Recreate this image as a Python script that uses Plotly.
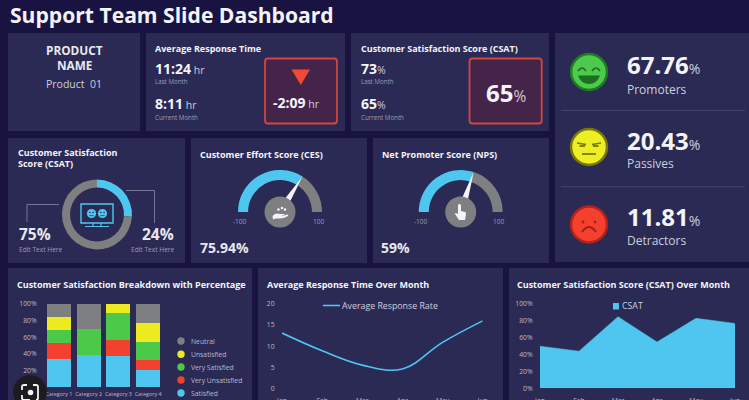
import math
import re
import plotly.graph_objects as go

# ---------- data ----------
categories = ["Category 1", "Category 2", "Category 3", "Category 4"]
satisfied = [34, 38.5, 37, 20]
very_unsatisfied = [19, 0, 20, 12]
very_satisfied = [16, 31, 32, 22.5]
unsatisfied = [15.5, 0, 11, 22.5]
neutral = [15.5, 30.5, 0, 23]
months = ["Jan", "Feb", "Mar", "Apr", "May", "Jun"]
response_rate = [13.1, 8.9, 5.5, 4.6, 10.9, 16]
csat_month = [50, 44, 85, 55, 83, 77]
donut_values = [26, 74]
ces_gauge = 68
nps_gauge = 60

BG = "#181340"
PANEL = "#2a2a55"
BLUE = "#4fc6f0"
GREY = "#7e7f80"
WHITE = "#f4f4f8"
SOFT = "#cfcfdc"
DIM = "#9d9db5"
FONT = "Open Sans"

W, H = 749, 400
fig = go.Figure()
shapes, notes = [], []


def fx(x):
    return x / W


def fy(y):
    return 1 - y / H


def dx(a, b):
    return [a / W, b / W]


def dy(top, bottom):
    return [1 - bottom / H, 1 - top / H]


def rect(x0, y0, x1, y1, fill, line=None, lw=0, layer="below"):
    shapes.append(dict(type="rect", xref="paper", yref="paper", x0=fx(x0), y0=fy(y0), x1=fx(x1), y1=fy(y1),
                       fillcolor=fill, line=dict(color=line or fill, width=lw), layer=layer))


def circle(cx, cy, r, fill, line=None, lw=0, layer="above"):
    shapes.append(dict(type="circle", xref="paper", yref="paper", x0=fx(cx - r), y0=fy(cy - r), x1=fx(cx + r), y1=fy(cy + r),
                       fillcolor=fill, line=dict(color=line or fill, width=lw), layer=layer))


def path(d, fill="rgba(0,0,0,0)", line=None, lw=0, layer="above"):
    conv = re.sub(r"(-?[\d.]+),(-?[\d.]+)", lambda m: f"{fx(float(m[1])):.5f},{fy(float(m[2])):.5f}", d)
    shapes.append(dict(type="path", xref="paper", yref="paper", path=conv, fillcolor=fill,
                       line=dict(color=line or "rgba(0,0,0,0)", width=lw), layer=layer))


def text(s, x, y, size, color=WHITE, anchor="left"):
    notes.append(dict(text=s, x=fx(x), y=fy(y), xref="paper", yref="paper", showarrow=False, xanchor=anchor,
                      yanchor="middle", borderpad=0, font=dict(family=FONT, size=size, color=color)))


def unit(main, suffix, sz, color=SOFT):
    return f'<b>{main}</b><span style="font-size:{sz}px;color:{color};font-weight:400">{suffix}</span>'


# ---------- panels ----------
for p in [(8, 33, 140, 131), (146, 33, 345, 131), (351, 33, 549, 131), (555, 33, 749, 262),
          (8, 138, 185, 263), (191, 138, 367, 263), (373, 138, 549, 263),
          (8, 268, 252, 400), (258, 268, 503, 400), (509, 268, 749, 400)]:
    rect(*p, PANEL)

text("<b>Support Team Slide Dashboard</b>", 8.5, 15, 21.1)

# product
text("<b>PRODUCT</b>", 74, 50, 11.8, "#e8e8ee", "center")
text("<b>NAME</b>", 74, 65, 11.8, "#e8e8ee", "center")
text("Product  01", 74, 84, 10.5, SOFT, "center")

# response time
text("<b>Average Response Time</b>", 154, 48, 9)
text(unit("11:24", " hr", 10.5), 154, 68, 14)
text("Last Month", 154, 82, 6.2, DIM)
text(unit("8:11", " hr", 10.5), 154, 103, 14)
text("Current Month", 154, 117, 6.2, DIM)


def red_box(x0, x1):
    y0, y1, r = 58.5, 123.5, 3
    path(f"M{x0+r},{y0} L{x1-r},{y0} Q{x1},{y0} {x1},{y0+r} L{x1},{y1-r} Q{x1},{y1} {x1-r},{y1} "
         f"L{x0+r},{y1} Q{x0},{y1} {x0},{y1-r} L{x0},{y0+r} Q{x0},{y0} {x0+r},{y0} Z",
         "#45244a", "#d2463f", 1.8, layer="below")


red_box(265, 337)
path("M291.5,69.5 L310,69.5 L300.8,85 Z", "#f04a35")
text(unit("-2:09", " hr", 10.5), 296, 102, 14, WHITE, "center")

# csat top
text("<b>Customer Satisfaction Score (CSAT)</b>", 359.7, 48, 9)
text(unit("73", "%", 10.5), 359.7, 68, 14)
text("Last Month", 359.7, 82, 6.2, DIM)
text(unit("65", "%", 10.5), 359.7, 103, 14)
text("Current Month", 359.7, 117, 6.2, DIM)
red_box(469.5, 541.7)
text(unit("65", "%", 15.5), 505.5, 92, 24, WHITE, "center")

# ---------- smileys ----------
circle(589, 72, 18, "#4bca4b", "#1f7a22", 2.5)
path("M578,71 Q582,65 586,71", line="#1e6e22", lw=1.6)
path("M592,71 Q596,65 600,71", line="#1e6e22", lw=1.6)
path("M578,75.5 L600,75.5 Q597,84 589,84 Q581,84 578,75.5 Z", "#1e6e22")
circle(589, 147, 18, "#eeee24", "#77760f", 2.5)
path("M577,143 L586,144.5", line="#77760f", lw=1.6)
path("M601,143 L592,144.5", line="#77760f", lw=1.6)
path("M579.5,146 L585,146", line="#77760f", lw=1.8)
path("M593,146 L598.5,146", line="#77760f", lw=1.8)
path("M582,154 L596,154", line="#77760f", lw=1.8)
circle(589, 224.5, 18, "#f4412e", "#b3231a", 2.5)
circle(583, 222, 1.4, "#a81e16")
circle(595, 222, 1.4, "#a81e16")
path("M582,232 Q589,222 596,232", line="#a81e16", lw=2)

for value, label, yv, yl in [("67.76", "Promoters", 65, 89), ("20.43", "Passives", 140, 164),
                             ("11.81", "Detractors", 216, 240.5)]:
    text(unit(value, "%", 14), 626, yv, 24)
    text(label, 626, yl, 12, SOFT)
for ys in (110.5, 186.7):
    path(f"M561,{ys} L745,{ys}", line="#4a4a70", lw=0.8, layer="below")

# ---------- donut ----------
fig.add_trace(go.Pie(values=donut_values, labels=["Satisfied", "Other"], hole=0.77, sort=False,
                     direction="clockwise", rotation=0, textinfo="none", hoverinfo="skip",
                     marker=dict(colors=[BLUE, GREY], line=dict(width=0)), showlegend=False,
                     domain=dict(x=dx(62, 132), y=dy(179.5, 249.5))))
text("<b>Customer Satisfaction</b>", 17, 152, 9)
text("<b>Score (CSAT)</b>", 17, 164, 9)
path("M126,190.5 L154.5,190.5 L154.5,223", line="#8a8ca8", lw=0.8, layer="below")
path("M59,204.5 L27,204.5 L27,222", line="#8a8ca8", lw=0.8, layer="below")
text("<b>75%</b>", 18, 234, 15.5, "#e6e6ee")
text("Edit Text Here", 18, 249, 6.6, DIM)
text("<b>24%</b>", 175, 234, 15.5, "#e6e6ee", "right")
text("Edit Text Here", 176, 249, 6.6, DIM, "right")
path("M81,204 L113,204 L113,223 L81,223 Z", line=BLUE, lw=1.4)
circle(91.5, 213.5, 4.6, BLUE)
circle(102.5, 213.5, 4.6, BLUE)
for fxc in (91.5, 102.5):
    circle(fxc - 1.6, 212.5, 0.8, PANEL)
    circle(fxc + 1.6, 212.5, 0.8, PANEL)
    path(f"M{fxc-2},215.6 L{fxc+2},215.6", line=PANEL, lw=0.7)
path("M85,226.5 L109,226.5 M93,223 L93,226.5 M101,223 L101,226.5", line=BLUE, lw=1.2)


# ---------- gauges ----------
def gauge(cx, cy, value, name):
    fig.add_trace(go.Pie(values=[value, 100 - value, 100], labels=["a", "b", "c"], hole=0.76, sort=False,
                         direction="clockwise", rotation=270, textinfo="none", hoverinfo="skip",
                         marker=dict(colors=[BLUE, GREY, "rgba(0,0,0,0)"], line=dict(width=0)),
                         showlegend=False, name=name,
                         domain=dict(x=dx(cx - 42, cx + 42), y=dy(cy - 42, cy + 42))))
    ang = math.pi * (1 - value / 100)
    ux, uy = math.cos(ang), -math.sin(ang)
    px, py = -uy, ux
    tip = (cx + 42 * ux, cy + 42 * uy)
    b1 = (cx + 12 * ux + 3.2 * px, cy + 12 * uy + 3.2 * py)
    b2 = (cx + 12 * ux - 3.2 * px, cy + 12 * uy - 3.2 * py)
    path(f"M{tip[0]:.1f},{tip[1]:.1f} L{b1[0]:.1f},{b1[1]:.1f} L{b2[0]:.1f},{b2[1]:.1f} Z", WHITE)
    circle(cx, cy, 15.5, GREY)
    text("-100", cx - 40, cy + 9, 6.5, DIM, "center")
    text("100", cx + 38, cy + 9, 6.5, DIM, "center")


gauge(280, 212, ces_gauge, "CES")
gauge(460.7, 212, nps_gauge, "NPS")
text("<b>Customer Effort Score (CES)</b>", 199, 154, 9)
text("<b>Net Promoter Score (NPS)</b>", 380.5, 154, 9)
text("<b>75.94%</b>", 199, 247, 14, "#e6e6ee")
text("<b>59%</b>", 380, 247, 14, "#e6e6ee")
# hand with people icon
path("M272.5,216 Q276,212.5 279.5,214 L284,214 Q285.5,215 284,216 L281,216 L287.5,214.5 Q289,214.5 288,216 "
     "Q284,218.5 279,218.5 L275.5,218.5 L273,219.5 Z", WHITE)
circle(278.5, 209.5, 1.3, WHITE)
circle(282, 208, 1.3, WHITE)
circle(285, 209.5, 1.3, WHITE)
# pointing hand icon
path("M458,205 Q459.5,203 461,205 L461,211 L465,212 Q466,212 466,214 L465,220 L459,220 L455,214 "
     "Q455,212 458,214 Z", WHITE)

# ---------- stacked bars ----------
stack = [("Satisfied", satisfied, BLUE), ("Very Unsatisfied", very_unsatisfied, "#f2412e"),
         ("Very Satisfied", very_satisfied, "#4dc94a"), ("Unsatisfied", unsatisfied, "#eeea20"),
         ("Neutral", neutral, GREY)]
for name, vals, col in stack:
    fig.add_trace(go.Bar(x=categories, y=vals, name=name, marker=dict(color=col, line=dict(width=0)),
                         showlegend=False, hoverinfo="skip", xaxis="x", yaxis="y"))
for (name, _, col), ly in zip(stack, [393, 380, 367, 354.3, 341]):
    circle(181, ly, 3.7, col, layer="below")
    text(name, 190, ly, 6.8, "#b9b9cc")
text("<b>Customer Satisfaction Breakdown with Percentage</b>", 16, 284.7, 9)

# ---------- line ----------
fig.add_trace(go.Scatter(x=months, y=response_rate, mode="lines", line=dict(color=BLUE, width=1.6, shape="spline", smoothing=1.1),
                         name="Average Response Rate", showlegend=False, hoverinfo="skip", xaxis="x2", yaxis="y2"))
text("<b>Average Response Time Over Month</b>", 266, 284.7, 9)
path("M323,305.5 L340,305.5", line=BLUE, lw=1.6)
text("Average Response Rate", 341, 305.5, 8.8, SOFT)

# ---------- area ----------
fig.add_trace(go.Scatter(x=months, y=csat_month, mode="lines", fill="tozeroy", fillcolor=BLUE, line=dict(color=BLUE, width=0.5),
                         name="CSAT", showlegend=False, hoverinfo="skip", xaxis="x3", yaxis="y3"))
text("<b>Customer Satisfaction Score (CSAT) Over Month</b>", 516, 284.7, 9)
rect(613, 303, 619, 309.5, BLUE, layer="above")
text("CSAT", 621, 305.5, 8.8, SOFT)

# ---------- lens badge ----------
circle(30, 392, 17, "#1c1c20")
path("M27,385 L24,385 Q22,385 22,387 L22,390 M33,385 L36,385 Q38,385 38,387 L38,398 Q38,400 36,400 "
     "M22,395 L22,398 Q22,400 24,400 L30,400", line="#f2f2f2", lw=1.8)
circle(30.5, 392.5, 2.8, "#f2f2f2")

axis_font = dict(family=FONT, size=6.8, color="#b9b9cc")


def xax(a, b, anchor, rng=None, size=6.8, tl=6):
    return dict(domain=dx(a, b), anchor=anchor, showgrid=False, zeroline=False, showline=False, automargin=False,
                ticks="outside", ticklen=tl, tickcolor="rgba(0,0,0,0)", tickfont=dict(family=FONT, size=size, color="#b9b9cc"),
                fixedrange=True, tickangle=0, **({"range": rng} if rng else {}))


def yax(top, bottom, anchor, rng, tickv, labels, standoff=4):
    return dict(domain=dy(top, bottom), anchor=anchor, range=rng, tickvals=tickv, ticktext=labels, automargin=False,
                showgrid=False, zeroline=False, showline=False, ticks="outside", ticklen=standoff,
                tickcolor="rgba(0,0,0,0)", tickfont=axis_font, fixedrange=True)


pct_v = [0, 20, 40, 60, 80, 100]
pct_t = [f"{v}%" for v in pct_v]
fig.update_layout(
    template="none",
    width=W, height=H, margin=dict(l=0, r=0, t=0, b=0, pad=0), paper_bgcolor=BG, plot_bgcolor="rgba(0,0,0,0)",
    barmode="stack", bargap=0.2, showlegend=False, font=dict(family=FONT), hovermode=False,
    xaxis=xax(44, 163, "y", None, 5.4, 2),
    yaxis=yax(304, 387, "x", [0, 100], pct_v, pct_t, 5),
    xaxis2=xax(282, 482.7, "y2", [0, 5]),
    yaxis2=yax(304, 388.3, "x2", [0, 20], [0, 5, 10, 15, 20], ["0", "5", "10", "15", "20"], 5),
    xaxis3=xax(540, 735, "y3", [0, 5]),
    yaxis3=yax(304, 388.3, "x3", [0, 100], pct_v, pct_t, 5),
    shapes=shapes, annotations=notes,
)
fig.write_html("out.html", config=dict(displayModeBar=False),
               post_script="document.body.style.margin='0';document.body.style.overflow='hidden';")
